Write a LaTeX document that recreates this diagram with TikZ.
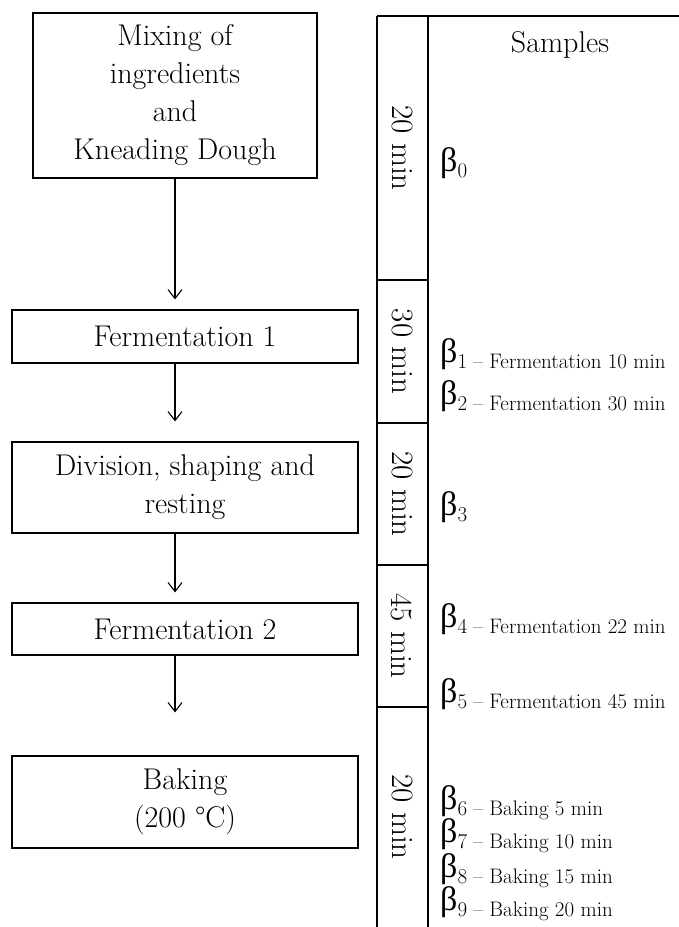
\documentclass[tikz,border=0pt]{standalone}
\usepackage{fontspec}
\newfontfamily\grk{Liberation Serif}
\usetikzlibrary{arrows.meta}
\newcommand\smplabel[1]{{\grk β}\raisebox{-6pt}{\fontsize{21}{23}\selectfont #1}}
\begin{document}
\begin{tikzpicture}[x=1pt,y=-1pt,
  stepbox/.style={draw, line width=1.2pt, align=center, inner sep=0pt, font=\fontsize{30}{38}\selectfont},
  flow/.style={line width=1.1pt, -{Straight Barb[length=9pt,width=14pt,line width=1.1pt]}},
  gridline/.style={line width=1.2pt},
  tlabel/.style={rotate=-90, inner sep=0pt, font=\fontsize{31}{33}\selectfont},
  smp/.style={anchor=base west, inner sep=0pt, font=\fontsize{34}{36}\selectfont},
]
\useasboundingbox (0,0) rectangle (679,927);
% flow boxes
\node[stepbox, minimum width=284pt, minimum height=165pt] (mix) at (175,95.5) {Mixing of\\ingredients\\and\\Kneading Dough};
\node[stepbox, minimum width=346pt, minimum height=53pt] (f1) at (185,336.5) {Fermentation 1};
\node[stepbox, minimum width=346pt, minimum height=91pt] (div) at (185,487.5) {Division, shaping and\\resting};
\node[stepbox, minimum width=346pt, minimum height=52pt] (f2) at (185,629) {Fermentation 2};
\node[stepbox, minimum width=346pt, minimum height=92pt] (bake) at (185,802) {Baking\\(200 °C)};
% arrows
\draw[flow, shorten >=10pt] (mix.south) -- (mix.south |- f1.north);
\draw[flow, shorten >=20pt] (mix.south |- f1.south) -- (mix.south |- div.north);
\draw[flow, shorten >=10pt] (mix.south |- div.south) -- (mix.south |- f2.north);
\draw[flow, shorten >=43pt] (mix.south |- f2.south) -- (mix.south |- bake.north);
% table
\draw[gridline] (377,16) -- (679,16);
\draw[gridline] (377,16) -- (377,927);
\draw[gridline] (428,16) -- (428,927);
\foreach \yy in {280,423,565,707} \draw[gridline] (377,\yy) -- (428,\yy);
% times
\node[tlabel] (t1) at (402,148) {20 min};
\node[tlabel] (t2) at (402,351.5) {30 min};
\node[tlabel] (t3) at (402,494) {20 min};
\node[tlabel] (t4) at (402,636) {45 min};
\node[tlabel] (t5) at (402,817) {20 min};
% samples
\node[font=\fontsize{30}{32}\selectfont] (hd) at (560,45) {Samples};
\node[smp] (s0) at (440,171) {\smplabel{0}};
\node[smp] (s1) at (440,362) {\smplabel{1 – Fermentation 10 min}};
\node[smp] (s2) at (440,404) {\smplabel{2 – Fermentation 30 min}};
\node[smp] (s3) at (440,515) {\smplabel{3}};
\node[smp] (s4) at (440,627) {\smplabel{4 – Fermentation 22 min}};
\node[smp] (s5) at (440,702) {\smplabel{5 – Fermentation 45 min}};
\node[smp] (s6) at (440,809) {\smplabel{6 – Baking 5 min}};
\node[smp] (s7) at (440,842) {\smplabel{7 – Baking 10 min}};
\node[smp] (s8) at (440,877) {\smplabel{8 – Baking 15 min}};
\node[smp] (s9) at (440,910) {\smplabel{9 – Baking 20 min}};
\end{tikzpicture}
\end{document}
